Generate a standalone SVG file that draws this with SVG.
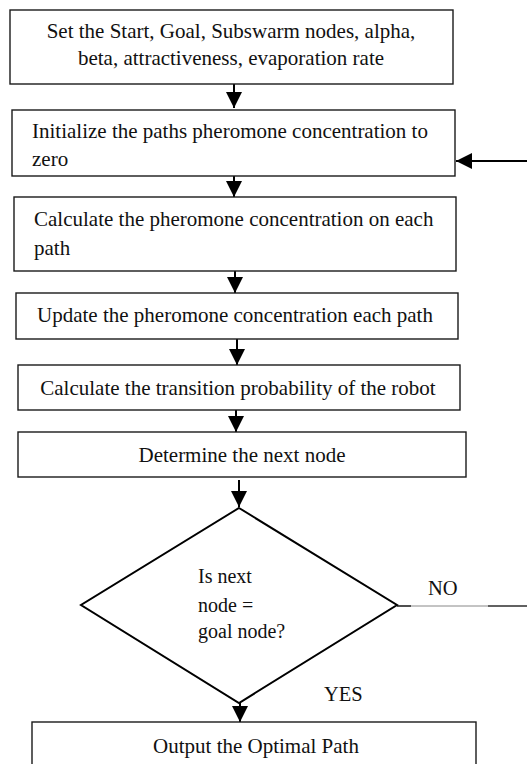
<svg xmlns="http://www.w3.org/2000/svg" width="527" height="764" viewBox="0 0 527 764">
  <style>
    .box { fill: #fff; stroke: #1a1a1a; stroke-width: 1.4; }
    .dia { fill: #fff; stroke: #000; stroke-width: 2; }
    .t { font-family: "Liberation Serif", "Times New Roman", serif; font-size: 21px; fill: #111; }
    .s { font-size: 20px; }
    .lbl { font-size: 20.5px; }
    .c { text-anchor: middle; }
    .wire { fill: none; stroke: #000; stroke-width: 2; }
    .thin { fill: none; stroke: #888; stroke-width: 1; }
  </style>
  <defs>
    <marker id="head" markerUnits="userSpaceOnUse" markerWidth="16" markerHeight="16" refX="16" refY="8" orient="auto">
      <path d="M0,0 L16,8 L0,16 z" fill="#000"/>
    </marker>
  </defs>
  <rect width="527" height="764" fill="#fff"/>

  <g id="connectors">
    <line class="wire" x1="234" y1="84" x2="234" y2="108" marker-end="url(#head)"/>
    <line class="wire" x1="234" y1="176" x2="234" y2="197" marker-end="url(#head)"/>
    <line class="wire" x1="235" y1="271" x2="235" y2="293" marker-end="url(#head)"/>
    <line class="wire" x1="237" y1="339" x2="237" y2="365" marker-end="url(#head)"/>
    <line class="wire" x1="236" y1="410" x2="236" y2="432" marker-end="url(#head)"/>
    <line class="wire" x1="239" y1="480" x2="239" y2="507" marker-end="url(#head)"/>
    <line class="wire" x1="240" y1="703" x2="240" y2="722" marker-end="url(#head)"/>
    <!-- loop back into the initialisation step -->
    <line class="wire" x1="527" y1="161" x2="456" y2="161" marker-end="url(#head)"/>
    <!-- NO branch leaving the decision -->
    <line class="thin" x1="397" y1="606" x2="527" y2="606"/>
    <line class="wire" x1="397" y1="606" x2="411" y2="606" style="stroke-width:1.2"/>
    <line class="wire" x1="488" y1="606" x2="527" y2="606" style="stroke-width:1.2"/>
  </g>

  <g id="n-setup">
    <rect class="box" x="10" y="10" width="443" height="74"/>
    <text class="t c" x="231" y="38">Set the Start, Goal, Subswarm nodes, alpha,</text>
    <text class="t c" x="231" y="65">beta, attractiveness, evaporation rate</text>
  </g>

  <g id="n-init">
    <rect class="box" x="12" y="110" width="443" height="66"/>
    <text class="t" x="32" y="138">Initialize the paths pheromone concentration to</text>
    <text class="t" x="32" y="166">zero</text>
  </g>

  <g id="n-calc">
    <rect class="box" x="14" y="197" width="442" height="74"/>
    <text class="t" x="34" y="226">Calculate the pheromone concentration on each</text>
    <text class="t" x="34" y="255">path</text>
  </g>

  <g id="n-update">
    <rect class="box" x="16" y="293" width="442" height="46"/>
    <text class="t c" x="235" y="322">Update the pheromone concentration each path</text>
  </g>

  <g id="n-prob">
    <rect class="box" x="18" y="365" width="442" height="45"/>
    <text class="t c" x="238" y="395">Calculate the transition probability of the robot</text>
  </g>

  <g id="n-next">
    <rect class="box" x="18" y="432" width="448" height="45"/>
    <text class="t c" x="242" y="462">Determine the next node</text>
  </g>

  <g id="n-goal">
    <polygon class="dia" points="239,508 397,605 239,703 81,605"/>
    <text class="t s" x="198" y="583">Is next</text>
    <text class="t s" x="198" y="612">node =</text>
    <text class="t s" x="198" y="638">goal node?</text>
  </g>

  <g id="labels">
    <text class="t lbl" x="428" y="595">NO</text>
    <text class="t lbl" x="324" y="701">YES</text>
  </g>

  <g id="n-output">
    <rect class="box" x="32" y="722" width="444" height="60"/>
    <text class="t c" x="256" y="753">Output the Optimal Path</text>
  </g>
</svg>
